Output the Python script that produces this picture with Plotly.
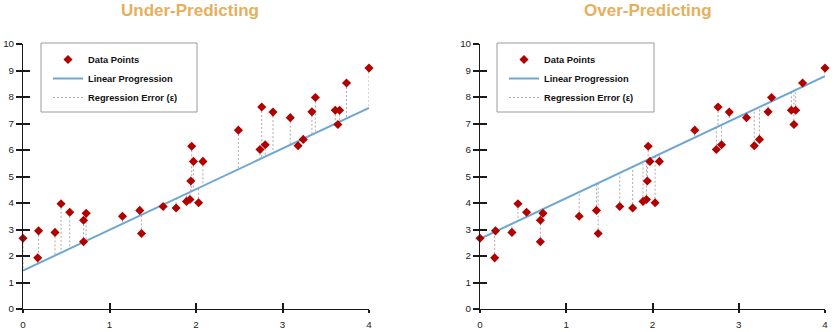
import plotly.graph_objects as go

# ---------------- data ----------------
x_vals = [0.00, 0.17, 0.18, 0.37, 0.44, 0.54, 0.70, 0.70, 0.73, 1.15, 1.35, 1.37,
          1.62, 1.77, 1.89, 1.93, 1.94, 1.95, 1.97, 2.03, 2.08, 2.49, 2.74, 2.76,
          2.80, 2.89, 3.09, 3.18, 3.24, 3.34, 3.38, 3.61, 3.64, 3.66, 3.74, 4.00]
y_vals = [2.67, 1.93, 2.95, 2.89, 3.97, 3.65, 3.35, 2.54, 3.61, 3.50, 3.72, 2.85,
          3.87, 3.81, 4.06, 4.13, 4.83, 6.14, 5.57, 4.01, 5.57, 6.75, 6.02, 7.62,
          6.20, 7.43, 7.22, 6.16, 6.40, 7.44, 7.98, 7.50, 6.96, 7.50, 8.53, 9.09]
slope = 1.535
intercepts = [1.45, 2.65]           # under-predicting, over-predicting
titles = ["Under-Predicting", "Over-Predicting"]
x_ticks = [0, 1, 2, 3, 4]
y_ticks = list(range(0, 11))
legend_labels = ["Data Points", "Linear Progression", "Regression Error (\u03b5)"]

# ---------------- style ----------------
W, H = 834, 332
RED = "#B00000"
BLUE = "#6FA6D2"
ERR = "rgba(170,160,160,0.9)"
GOLD = "#E6AF5C"
AX = "#1a1a1a"
FONT = "Liberation Sans, Arial, Helvetica, sans-serif"

def fx(p):
    return p / W

def fy(p):
    return 1 - p / H

panels = [
    dict(xd=[fx(23), fx(369)], title_x=190, legend_x=48, box=[41, 197]),
    dict(xd=[fx(480), fx(825)], title_x=648, legend_x=504, box=[497, 654]),
]
ydom = [fy(309), fy(44)]

fig = go.Figure()
shapes = []
annotations = []
layout = dict(width=W, height=H, margin=dict(l=0, r=0, t=0, b=0, autoexpand=False),
              paper_bgcolor="white", plot_bgcolor="white", showlegend=True)

for i, (p, b, ttl) in enumerate(zip(panels, intercepts, titles)):
    xa = "x" if i == 0 else "x2"
    ya = "y" if i == 0 else "y2"
    xo = "x3" if i == 0 else "x4"
    yo = "y3" if i == 0 else "y4"
    leg = "legend" if i == 0 else "legend2"

    fit = lambda x: b + slope * x

    ex, ey = [], []
    for xv, yv in zip(x_vals, y_vals):
        ex += [xv, xv, None]
        ey += [yv, fit(xv), None]
    fig.add_trace(go.Scatter(x=ex, y=ey, mode="lines", xaxis=xa, yaxis=ya,
                             line=dict(color=ERR, width=1, dash="2px,2px"),
                             name=legend_labels[2], legend=leg, legendrank=3,
                             hoverinfo="skip"))
    lx = [min(x_ticks), max(x_ticks)]
    fig.add_trace(go.Scatter(x=lx, y=[fit(v) for v in lx], mode="lines",
                             xaxis=xa, yaxis=ya, line=dict(color=BLUE, width=2),
                             name=legend_labels[1], legend=leg, legendrank=2))
    fig.add_trace(go.Scatter(x=x_vals, y=y_vals, mode="markers", xaxis=xa, yaxis=ya,
                             marker=dict(symbol="diamond", size=7, color=RED),
                             cliponaxis=False,
                             name=legend_labels[0], legend=leg, legendrank=1))
    # invisible trace on overlay axes (inside half of crossing ticks)
    fig.add_trace(go.Scatter(x=[], y=[], xaxis=xo, yaxis=yo, showlegend=False))

    common = dict(showgrid=False, zeroline=False, linecolor=AX, linewidth=1,
                  tickcolor=AX, tickwidth=1.5, automargin=False,
                  tickfont=dict(family=FONT, size=9.8, color="#222"))
    xs = "xaxis" if i == 0 else "xaxis2"
    ys = "yaxis" if i == 0 else "yaxis2"
    layout[xs] = dict(domain=p["xd"], range=[0, 4], anchor=ya, tickvals=x_ticks,
                      ticks="outside", ticklen=3, showline=True,
                      ticklabelstandoff=3, **common)
    layout[ys] = dict(domain=ydom, range=[0, 10], anchor=xa, tickvals=y_ticks,
                      ticks="outside", ticklen=6, showline=True, **common)
    xos = "xaxis3" if i == 0 else "xaxis4"
    yos = "yaxis3" if i == 0 else "yaxis4"
    layout[xos] = dict(overlaying=xa, anchor=yo, range=[0, 4], tickvals=x_ticks,
                       ticks="inside", ticklen=6, showticklabels=False,
                       showline=False, showgrid=False, zeroline=False,
                       tickcolor=AX, tickwidth=1.5, automargin=False)
    layout[yos] = dict(overlaying=ya, anchor=xo, range=[0, 10], tickvals=y_ticks,
                       ticks="inside", ticklen=7, showticklabels=False,
                       showline=False, showgrid=False, zeroline=False,
                       tickcolor=AX, tickwidth=1.5, automargin=False)

    layout[leg] = dict(x=fx(p["legend_x"]), y=fy(45), xanchor="left", yanchor="top",
                       bgcolor="rgba(0,0,0,0)", borderwidth=0, traceorder="normal",
                       font=dict(family=FONT, size=9.3, color="#111", weight="bold"))
    shapes.append(dict(type="rect", xref="paper", yref="paper",
                       x0=fx(p["box"][0]), x1=fx(p["box"][1]), y0=fy(112), y1=fy(43),
                       line=dict(color="#9a9a9a", width=1), fillcolor="white",
                       layer="below"))
    annotations.append(dict(text="<b>%s</b>" % ttl, xref="paper", yref="paper",
                            x=fx(p["title_x"]), y=fy(10), xanchor="center",
                            yanchor="middle", showarrow=False,
                            font=dict(family=FONT, size=17, color=GOLD)))

layout["shapes"] = shapes
layout["annotations"] = annotations
fig.update_layout(**layout)
fig.write_html("out.html")
